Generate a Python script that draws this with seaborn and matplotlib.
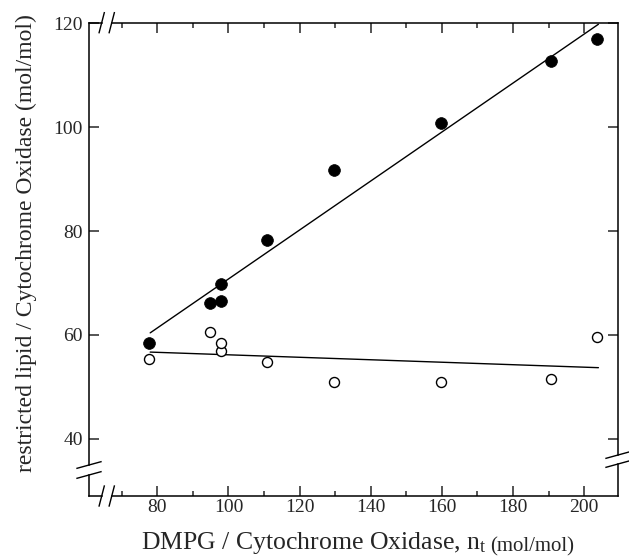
import matplotlib
matplotlib.use("Agg")
import matplotlib.pyplot as plt
import seaborn as sns
from matplotlib.ticker import MultipleLocator

# values
n_t = [77.8, 94.8, 97.8, 97.8, 110.8, 129.8, 159.8, 190.7, 203.6]
restricted_filled = [58.5, 66.2, 66.6, 69.8, 78.2, 91.8, 100.8, 112.8, 116.9]
restricted_open = [55.4, 60.5, 57.0, 58.5, 54.8, 51.0, 51.0, 51.5, 59.7]

# straight lines drawn through each set
fit_x = [78, 204]
fit_filled = [60.4, 119.8]
fit_open = [56.7, 53.7]

xticks = [80, 100, 120, 140, 160, 180, 200]
yticks = [40, 60, 80, 100, 120]

sns.set_style("ticks")
plt.rcParams['font.family'] = ['Liberation Serif', 'DejaVu Serif']
plt.rcParams['mathtext.fontset'] = 'custom'
plt.rcParams['mathtext.rm'] = 'Liberation Serif'
plt.rcParams['mathtext.it'] = 'Liberation Serif:italic'

fig = plt.figure(figsize=(6.29, 5.56), dpi=100)
ax = fig.add_axes([0.1415, 0.1079, 0.8410, 0.8513])

sns.lineplot(x=fit_x, y=fit_filled, color='black', lw=1.0, ax=ax, zorder=2)
sns.lineplot(x=fit_x, y=fit_open, color='black', lw=1.0, ax=ax, zorder=2)
sns.scatterplot(x=n_t, y=restricted_filled, color='black', edgecolor='black',
                s=72, linewidth=0.5, ax=ax, zorder=3)
sns.scatterplot(x=n_t, y=restricted_open, color='white', edgecolor='black',
                s=52, linewidth=1.0, ax=ax, zorder=3)

ax.set_xlim(60.8, 209.5)
ax.set_ylim(29.0, 120.1)
ax.set_xticks(xticks)
ax.set_yticks(yticks)
ax.xaxis.set_minor_locator(MultipleLocator(10))

ax.tick_params(which='both', direction='in', top=True, right=True, width=1.1)
ax.tick_params(which='major', length=7, labelsize=14)
ax.tick_params(which='minor', length=3.5)
ax.tick_params(axis='x', pad=2.5)
ax.tick_params(axis='y', pad=4.3)

# frame with broken axes
for s in ax.spines.values():
    s.set_visible(False)

W, H = 529.0, 473.3
gx = (0.024, 0.043)
gyl = (0.0444, 0.0655)
gyr = (0.0676, 0.0866)

def seg(xs, ys, lw=1.1):
    ax.plot(xs, ys, transform=ax.transAxes, color='black', lw=lw,
            clip_on=False, solid_capstyle='projecting', zorder=5)

seg([0, gx[0]], [1, 1]); seg([gx[1], 1], [1, 1])
seg([0, gx[0]], [0, 0]); seg([gx[1], 1], [0, 0])
seg([0, 0], [0, gyl[0]]); seg([0, 0], [gyl[1], 1])
seg([1, 1], [0, gyr[0]]); seg([1, 1], [gyr[1], 1])

for y0 in (0, 1):
    for x0 in gx:
        seg([x0 - 2.6 / W, x0 + 2.6 / W], [y0 - 10 / H, y0 + 10 / H], lw=1.0)
for x0, gap in ((0, gyl), (1, gyr)):
    for y0 in gap:
        seg([x0 - 12 / W, x0 + 12 / W], [y0 - 3.3 / H, y0 + 3.3 / H], lw=1.0)

ax.set_ylabel('restricted lipid / Cytochrome Oxidase (mol/mol)', fontsize=17)
ax.yaxis.set_label_coords(-0.098, 0.535)

xl = ax.set_xlabel('DMPG / Cytochrome Oxidase, n$_{\\rm t}$', fontsize=18.5, ha='left')
ax.xaxis.set_label_coords(0.098, -0.072)
ax.annotate('(mol/mol)', xy=(1, 0), xycoords=xl, xytext=(3, 0),
            textcoords='offset points', ha='left', va='bottom', fontsize=15)

fig.savefig('out.png', dpi=100)
